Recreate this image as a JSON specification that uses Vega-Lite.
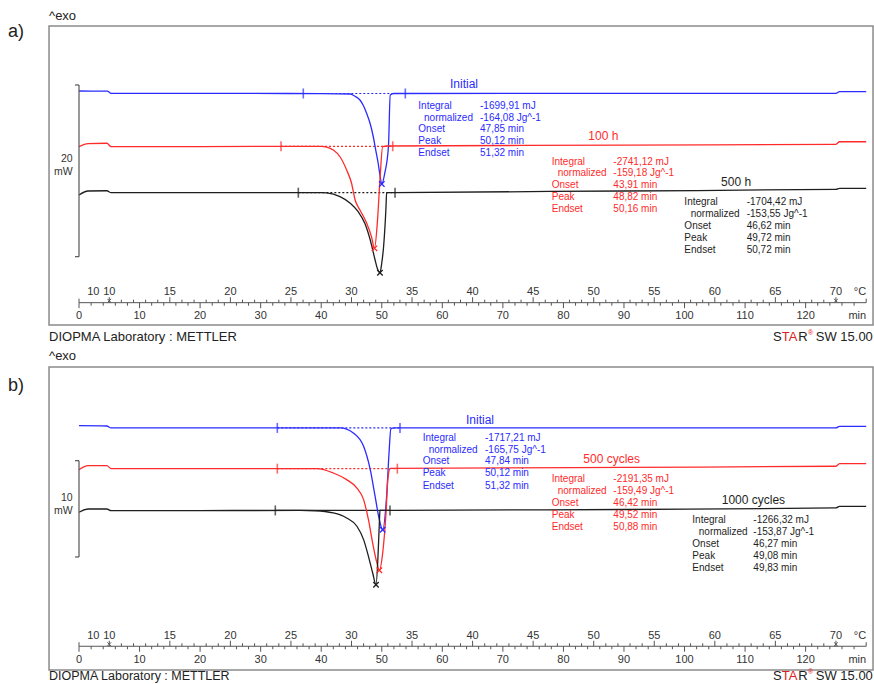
{
"$schema":"https://vega.github.io/schema/vega-lite/v6.json",
"padding":0,
"spacing":0,
"background":"#ffffff",
"config":{"view":{"stroke":null},"text":{"font":"Liberation Sans"}},
"datasets":{
"curves":[
{"panel":"a","series":"Initial","t":[0,4.7,5.3,20,40,44.8,45.5,46.4,47.0,47.5,48.1,48.6,49.0,49.4,49.7,50.0,50.5,51.1,51.4,52,90,125,125.6,130],"v":[29.24,29.22,28.97,28.97,28.93,28.89,28.66,28.19,27.49,26.64,25.39,23.91,22.37,20.85,19.45,18.40,19.69,22.75,28.77,28.95,28.96,28.97,29.16,29.16]},
{"panel":"a","series":"100 h","t":[0,1.5,4.6,5.3,20,40,40.9,42.0,43.1,44.2,45.0,45.6,46.4,47.5,48.3,48.8,49.3,49.7,50.15,51,90,125,125.6,130],"v":[22.75,23.12,23.15,22.75,22.77,22.79,22.71,22.36,21.58,20.04,18.52,16.54,15.38,13.86,12.27,10.91,14.21,18.87,22.75,22.83,22.93,23.03,23.33,23.33]},
{"panel":"a","series":"500 h","t":[0,1.5,4.6,5.3,20,40,40.9,43.1,44.8,46.1,47.2,48.1,48.9,49.3,49.7,50.0,50.3,50.7,50.8,52,90,125,125.6,130],"v":[17.12,17.59,17.62,17.39,17.39,17.39,17.36,16.93,16.16,15.18,13.83,11.88,9.55,8.5,8.07,9.2,11.10,15.76,17.39,17.40,17.59,17.79,17.90,17.90]},
{"panel":"b","series":"Initial","t":[0,4.6,5.3,30,43.1,44.3,45.3,47.0,48.1,48.9,49.6,50.15,50.8,51.2,51.5,52,90,125,125.6,130],"v":[27.13,27.10,26.90,26.90,26.90,26.75,26.38,24.99,22.56,19.80,17.37,16.33,19.80,24.30,26.79,26.90,26.90,26.90,27.07,27.07]},
{"panel":"b","series":"500 cycles","t":[0,1.5,4.6,5.3,20,39.3,42.0,44.2,45.9,47.0,47.8,48.6,49.2,49.6,50.15,50.7,51.0,51.4,90,125,125.6,130],"v":[22.56,22.98,22.98,22.67,22.67,22.67,22.22,21.53,20.66,19.45,17.37,14.61,12.88,12.12,13.91,18.07,21.53,22.69,22.80,22.92,23.19,23.19]},
{"panel":"b","series":"1000 cycles","t":[0,1.5,4.6,5.3,20,36.5,39,42.0,44.2,45.9,47.0,47.8,48.5,49.05,49.4,49.6,49.7,52,90,125,125.6,130],"v":[18.14,18.48,18.48,18.31,18.32,18.33,18.30,18.07,17.55,16.69,15.30,13.57,11.84,10.62,13.91,17.03,18.33,18.34,18.43,18.59,18.76,18.76]}
],
"limits":[
{"panel":"a","series":"Initial","start":37.04,"end":53.89,"v":28.95},
{"panel":"a","series":"100 h","start":33.36,"end":51.81,"v":22.80},
{"panel":"a","series":"500 h","start":36.22,"end":52.19,"v":17.39},
{"panel":"b","series":"Initial","start":32.75,"end":53.01,"v":26.90},
{"panel":"b","series":"500 cycles","start":32.75,"end":52.57,"v":22.67},
{"panel":"b","series":"1000 cycles","start":32.42,"end":51.36,"v":18.33}
],
"peaks":[
{"panel":"a","series":"Initial","t":50.0,"v":18.40},
{"panel":"a","series":"100 h","t":48.8,"v":10.91},
{"panel":"a","series":"500 h","t":49.7,"v":8.07},
{"panel":"b","series":"Initial","t":50.15,"v":16.33},
{"panel":"b","series":"500 cycles","t":49.6,"v":12.12},
{"panel":"b","series":"1000 cycles","t":49.05,"v":10.62}
],
"titles":[
{"panel":"a","series":"Initial","t":61.27,"v":30.02,"text":"Initial"},
{"panel":"a","series":"100 h","t":84.11,"v":24.0,"text":"100 h"},
{"panel":"a","series":"500 h","t":106.03,"v":18.64,"text":"500 h"},
{"panel":"b","series":"Initial","t":63.91,"v":27.76,"text":"Initial"},
{"panel":"b","series":"500 cycles","t":83.29,"v":23.71,"text":"500 cycles"},
{"panel":"b","series":"1000 cycles","t":106.14,"v":19.45,"text":"1000 cycles"}
],
"table":[
{"panel":"a","series":"Initial","t":[56.04,56.98,56.04,56.04,56.04,66.23,66.23,66.23,66.23,66.23],"v":[27.52,26.13,24.77,23.41,21.98,27.52,26.13,24.77,23.41,21.98],"text":["Integral","normalized","Onset","Peak","Endset","-1699,91 mJ","-164,08 Jg^-1","47,85 min","50,12 min","51,32 min"]},
{"panel":"a","series":"100 h","t":[78.07,79.06,78.07,78.07,78.07,88.24,88.24,88.24,88.24,88.24],"v":[21.0,19.65,18.29,16.89,15.49,21.0,19.65,18.29,16.89,15.49],"text":["Integral","normalized","Onset","Peak","Endset","-2741,12 mJ","-159,18 Jg^-1","43,91 min","48,82 min","50,16 min"]},
{"panel":"a","series":"500 h","t":[99.97,101.02,99.97,99.97,99.97,110.27,110.27,110.27,110.27,110.27],"v":[16.27,14.88,13.51,12.15,10.75,16.27,14.88,13.51,12.15,10.75],"text":["Integral","normalized","Onset","Peak","Endset","-1704,42 mJ","-153,55 Jg^-1","46,62 min","49,72 min","50,72 min"]},
{"panel":"b","series":"Initial","t":[56.76,57.75,56.76,56.76,56.76,67.05,67.05,67.05,67.05,67.05],"v":[25.86,24.61,23.44,22.19,20.90,25.86,24.61,23.44,22.19,20.90],"text":["Integral","normalized","Onset","Peak","Endset","-1717,21 mJ","-165,75 Jg^-1","47,84 min","50,12 min","51,32 min"]},
{"panel":"b","series":"500 cycles","t":[78.07,79.06,78.07,78.07,78.07,88.24,88.24,88.24,88.24,88.24],"v":[21.60,20.35,19.11,17.86,16.61,21.60,20.35,19.11,17.86,16.61],"text":["Integral","normalized","Onset","Peak","Endset","-2191,35 mJ","-159,49 Jg^-1","46,42 min","49,52 min","50,88 min"]},
{"panel":"b","series":"1000 cycles","t":[101.29,102.35,101.29,101.29,101.29,111.36,111.36,111.36,111.36,111.36],"v":[17.37,16.13,14.88,13.63,12.39,17.37,16.13,14.88,13.63,12.39],"text":["Integral","normalized","Onset","Peak","Endset","-1266,32 mJ","-153,87 Jg^-1","46,27 min","49,08 min","49,83 min"]}
],
"axisTicks":[{"t":[0,1,2,3,4,5,6,7,8,9,10,11,12,13,14,15,16,17,18,19,20,21,22,23,24,25,26,27,28,29,30,31,32,33,34,35,36,37,38,39,40,41,42,43,44,45,46,47,48,49,50,51,52,53,54,55,56,57,58,59,60,61,62,63,64,65,66,67,68,69,70,71,72,73,74,75,76,77,78,79,80,81,82,83,84,85,86,87,88,89,90,91,92,93,94,95,96,97,98,99,100,101,102,103,104,105,106,107,108,109,110,111,112,113,114,115,116,117,118,119,120,121,122,123,124,125,126,127,128,129,130]}],
"minLabels":[{"t":[0,10,20,30,40,50,60,70,80,90,100,110,120],"text":["0","10","20","30","40","50","60","70","80","90","100","110","120"]}],
"tempLabels":[{"t":[2.36,5,15,25,35,45,55,65,75,85,95,105,115,125],"text":["10","10","15","20","25","30","35","40","45","50","55","60","65","70"]}]
},
"vconcat":[
{"width":874,"height":342,"layer":[
{"data":{"values":[{}]},"mark":{"type":"rect","filled":false,"stroke":"#8a8a8a","strokeWidth":1.5},"encoding":{"x":{"datum":-4.95,"type":"quantitative","scale":{"domain":[-13.047,131.29],"nice":false,"zero":false},"axis":null},"x2":{"datum":131.13},"y":{"datum":36.81,"type":"quantitative","scale":{"domain":[0,39.84],"nice":false,"zero":false},"axis":null},"y2":{"datum":1.98}}},
{"data":{"name":"limits"},"transform":[{"filter":"datum.panel==='a'"}],"mark":{"type":"rule","strokeWidth":1.2},"encoding":{"x":{"field":"start","type":"quantitative","scale":{"domain":[-13.047,131.29],"nice":false,"zero":false},"axis":null},"x2":{"field":"end"},"y":{"field":"v","type":"quantitative","scale":{"domain":[0,39.84],"nice":false,"zero":false},"axis":null},"color":{"field":"series","type":"nominal","scale":{"domain":["Initial","100 h","500 h","500 cycles","1000 cycles"],"range":["#2b2bff","#ff2b2b","#1e1e1e","#ff2b2b","#1e1e1e"]},"legend":null},"strokeDash":{"condition":{"test":"datum.series==='1000 cycles'","value":[1,0]},"value":[2,2]}}},
{"data":{"name":"limits"},"transform":[{"filter":"datum.panel==='a'"},{"fold":["start","end"],"as":["which","pos"]}],"mark":{"type":"tick","orient":"vertical","size":10,"thickness":1.6},"encoding":{"x":{"field":"pos","type":"quantitative","scale":{"domain":[-13.047,131.29],"nice":false,"zero":false},"axis":null},"y":{"field":"v","type":"quantitative","scale":{"domain":[0,39.84],"nice":false,"zero":false},"axis":null},"color":{"field":"series","type":"nominal","legend":null}}},
{"data":{"name":"curves"},"transform":[{"filter":"datum.panel==='a'"},{"flatten":["t","v"]}],"mark":{"type":"line","interpolate":"monotone","strokeWidth":1.3},"encoding":{"x":{"field":"t","type":"quantitative","scale":{"domain":[-13.047,131.29],"nice":false,"zero":false},"axis":null},"y":{"field":"v","type":"quantitative","scale":{"domain":[0,39.84],"nice":false,"zero":false},"axis":null},"color":{"field":"series","type":"nominal","legend":null}}},
{"data":{"name":"peaks"},"transform":[{"filter":"datum.panel==='a'"}],"mark":{"type":"point","shape":"M-1,-1L1,1M-1,1L1,-1","filled":false,"size":30,"strokeWidth":1.3,"opacity":1},"encoding":{"x":{"field":"t","type":"quantitative","scale":{"domain":[-13.047,131.29],"nice":false,"zero":false},"axis":null},"y":{"field":"v","type":"quantitative","scale":{"domain":[0,39.84],"nice":false,"zero":false},"axis":null},"color":{"field":"series","type":"nominal","legend":null}}},
{"data":{"name":"titles"},"transform":[{"filter":"datum.panel==='a'"}],"mark":{"type":"text","align":"left","baseline":"middle","fontSize":12},"encoding":{"x":{"field":"t","type":"quantitative","scale":{"domain":[-13.047,131.29],"nice":false,"zero":false},"axis":null},"y":{"field":"v","type":"quantitative","scale":{"domain":[0,39.84],"nice":false,"zero":false},"axis":null},"color":{"field":"series","type":"nominal","legend":null},"text":{"field":"text"}}},
{"data":{"name":"table"},"transform":[{"filter":"datum.panel==='a'"},{"flatten":["t","v","text"]}],"mark":{"type":"text","align":"left","baseline":"middle","fontSize":10},"encoding":{"x":{"field":"t","type":"quantitative","scale":{"domain":[-13.047,131.29],"nice":false,"zero":false},"axis":null},"y":{"field":"v","type":"quantitative","scale":{"domain":[0,39.84],"nice":false,"zero":false},"axis":null},"color":{"field":"series","type":"nominal","legend":null},"text":{"field":"text"}}},
{"data":{"values":[{}]},"mark":{"type":"rule","color":"#555555","strokeWidth":1.2},"encoding":{"x":{"datum":0,"type":"quantitative"},"y":{"datum":29.94,"type":"quantitative"},"y2":{"datum":9.94}}},
{"data":{"values":[{}]},"mark":{"type":"rule","color":"#555555","strokeWidth":1.2},"encoding":{"x":{"datum":-0.66,"type":"quantitative"},"x2":{"datum":0},"y":{"datum":29.94,"type":"quantitative"}}},
{"data":{"values":[{}]},"mark":{"type":"rule","color":"#555555","strokeWidth":1.2},"encoding":{"x":{"datum":-0.66,"type":"quantitative"},"x2":{"datum":0},"y":{"datum":9.94,"type":"quantitative"}}},
{"data":{"values":[{"text":"20","v":21.32},{"text":"mW","v":19.80}]},"mark":{"type":"text","align":"right","baseline":"middle","fontSize":10.5,"color":"#333333"},"encoding":{"x":{"datum":-1.04,"type":"quantitative"},"y":{"field":"v","type":"quantitative"},"text":{"field":"text"}}},
{"data":{"values":[{}]},"mark":{"type":"rule","color":"#555555","strokeWidth":1},"encoding":{"x":{"datum":0,"type":"quantitative"},"x2":{"datum":130},"y":{"datum":4.58,"type":"quantitative"}}},
{"data":{"name":"axisTicks"},"transform":[{"flatten":["t"]},{"filter":"datum.t % 10 === 0 && datum.t <= 120"}],"mark":{"type":"rule","color":"#555555","strokeWidth":1},"encoding":{"x":{"field":"t","type":"quantitative"},"y":{"datum":4.58,"type":"quantitative"},"y2":{"datum":3.94}}},
{"data":{"name":"axisTicks"},"transform":[{"flatten":["t"]},{"filter":"datum.t % 2 === 0 && datum.t % 10 !== 0 && datum.t < 130"}],"mark":{"type":"rule","color":"#555555","strokeWidth":1},"encoding":{"x":{"field":"t","type":"quantitative"},"y":{"datum":4.58,"type":"quantitative"},"y2":{"datum":4.23}}},
{"data":{"name":"axisTicks"},"transform":[{"flatten":["t"]},{"filter":"datum.t % 10 === 5"}],"mark":{"type":"rule","color":"#555555","strokeWidth":1},"encoding":{"x":{"field":"t","type":"quantitative"},"y":{"datum":4.58,"type":"quantitative"},"y2":{"datum":5.22}}},
{"data":{"name":"axisTicks"},"transform":[{"flatten":["t"]},{"filter":"datum.t % 2 === 1 && datum.t > 5 && datum.t < 125 && datum.t % 10 !== 5"}],"mark":{"type":"rule","color":"#555555","strokeWidth":1},"encoding":{"x":{"field":"t","type":"quantitative"},"y":{"datum":4.58,"type":"quantitative"},"y2":{"datum":4.93}}},
{"data":{"values":[{"t":0},{"t":130}]},"mark":{"type":"rule","color":"#555555","strokeWidth":1},"encoding":{"x":{"field":"t","type":"quantitative"},"y":{"datum":4.58,"type":"quantitative"},"y2":{"datum":5.05}}},
{"data":{"values":[{"t":5},{"t":125}]},"mark":{"type":"point","shape":"M-1,-1L1,1M-1,1L1,-1","filled":false,"size":14,"strokeWidth":1,"color":"#555555","opacity":1},"encoding":{"x":{"field":"t","type":"quantitative"},"y":{"datum":4.81,"type":"quantitative"}}},
{"data":{"name":"minLabels"},"transform":[{"flatten":["t","text"]}],"mark":{"type":"text","align":"center","baseline":"middle","fontSize":11,"color":"#333333"},"encoding":{"x":{"field":"t","type":"quantitative"},"y":{"datum":3.06,"type":"quantitative"},"text":{"field":"text"}}},
{"data":{"name":"tempLabels"},"transform":[{"flatten":["t","text"]}],"mark":{"type":"text","align":"center","baseline":"middle","fontSize":11,"color":"#333333"},"encoding":{"x":{"field":"t","type":"quantitative"},"y":{"datum":5.86,"type":"quantitative"},"text":{"field":"text"}}},
{"data":{"values":[{"text":"°C","v":5.86},{"text":"min","v":3.06}]},"mark":{"type":"text","align":"right","baseline":"middle","fontSize":11,"color":"#333333"},"encoding":{"x":{"datum":130,"type":"quantitative"},"y":{"field":"v","type":"quantitative"},"text":{"field":"text"}}},
{"data":{"values":[{}]},"mark":{"type":"text","text":"^exo","align":"left","baseline":"middle","fontSize":13,"color":"#222222"},"encoding":{"x":{"datum":-4.95,"type":"quantitative"},"y":{"datum":37.97,"type":"quantitative"}}},
{"data":{"values":[{}]},"mark":{"type":"text","text":"a)","align":"left","baseline":"middle","fontSize":18,"color":"#222222"},"encoding":{"x":{"datum":-11.73,"type":"quantitative"},"y":{"datum":36.14,"type":"quantitative"}}},
{"data":{"values":[{}]},"mark":{"type":"text","text":"DIOPMA Laboratory : METTLER","align":"left","baseline":"middle","fontSize":13,"color":"#222222"},"encoding":{"x":{"datum":-4.95,"type":"quantitative"},"y":{"datum":0.55,"type":"quantitative"}}},
{"data":{"values":[{}]},"mark":{"type":"text","text":"S","align":"left","baseline":"middle","fontSize":13,"color":"#222222"},"encoding":{"x":{"datum":114.6,"type":"quantitative"},"y":{"datum":0.55,"type":"quantitative"}}},
{"data":{"values":[{}]},"mark":{"type":"text","text":"TA","align":"left","baseline":"middle","fontSize":13,"color":"#e02020"},"encoding":{"x":{"datum":116.05,"type":"quantitative"},"y":{"datum":0.55,"type":"quantitative"}}},
{"data":{"values":[{}]},"mark":{"type":"text","text":"R","align":"left","baseline":"middle","fontSize":13,"color":"#222222"},"encoding":{"x":{"datum":118.8,"type":"quantitative"},"y":{"datum":0.55,"type":"quantitative"}}},
{"data":{"values":[{}]},"mark":{"type":"text","text":"®","align":"left","baseline":"middle","fontSize":7,"color":"#e02020"},"encoding":{"x":{"datum":120.4,"type":"quantitative"},"y":{"datum":1.02,"type":"quantitative"}}},
{"data":{"values":[{}]},"mark":{"type":"text","text":"SW 15.00","align":"right","baseline":"middle","fontSize":13,"color":"#222222"},"encoding":{"x":{"datum":131.1,"type":"quantitative"},"y":{"datum":0.55,"type":"quantitative"}}}
]},
{"width":874,"height":342,"layer":[
{"data":{"values":[{}]},"mark":{"type":"rect","filled":false,"stroke":"#8a8a8a","strokeWidth":1.5},"encoding":{"x":{"datum":-4.95,"type":"quantitative","scale":{"domain":[-13.047,131.29],"nice":false,"zero":false},"axis":null},"x2":{"datum":131.13},"y":{"datum":33.23,"type":"quantitative","scale":{"domain":[0,35.51],"nice":false,"zero":false},"axis":null},"y2":{"datum":1.765}}},
{"data":{"name":"limits"},"transform":[{"filter":"datum.panel==='b'"}],"mark":{"type":"rule","strokeWidth":1.2},"encoding":{"x":{"field":"start","type":"quantitative","scale":{"domain":[-13.047,131.29],"nice":false,"zero":false},"axis":null},"x2":{"field":"end"},"y":{"field":"v","type":"quantitative","scale":{"domain":[0,35.51],"nice":false,"zero":false},"axis":null},"color":{"field":"series","type":"nominal","scale":{"domain":["Initial","100 h","500 h","500 cycles","1000 cycles"],"range":["#2b2bff","#ff2b2b","#1e1e1e","#ff2b2b","#1e1e1e"]},"legend":null},"strokeDash":{"condition":{"test":"datum.series==='1000 cycles'","value":[1,0]},"value":[2,2]}}},
{"data":{"name":"limits"},"transform":[{"filter":"datum.panel==='b'"},{"fold":["start","end"],"as":["which","pos"]}],"mark":{"type":"tick","orient":"vertical","size":10,"thickness":1.6},"encoding":{"x":{"field":"pos","type":"quantitative","scale":{"domain":[-13.047,131.29],"nice":false,"zero":false},"axis":null},"y":{"field":"v","type":"quantitative","scale":{"domain":[0,35.51],"nice":false,"zero":false},"axis":null},"color":{"field":"series","type":"nominal","legend":null}}},
{"data":{"name":"curves"},"transform":[{"filter":"datum.panel==='b'"},{"flatten":["t","v"]}],"mark":{"type":"line","interpolate":"monotone","strokeWidth":1.3},"encoding":{"x":{"field":"t","type":"quantitative","scale":{"domain":[-13.047,131.29],"nice":false,"zero":false},"axis":null},"y":{"field":"v","type":"quantitative","scale":{"domain":[0,35.51],"nice":false,"zero":false},"axis":null},"color":{"field":"series","type":"nominal","legend":null}}},
{"data":{"name":"peaks"},"transform":[{"filter":"datum.panel==='b'"}],"mark":{"type":"point","shape":"M-1,-1L1,1M-1,1L1,-1","filled":false,"size":30,"strokeWidth":1.3,"opacity":1},"encoding":{"x":{"field":"t","type":"quantitative","scale":{"domain":[-13.047,131.29],"nice":false,"zero":false},"axis":null},"y":{"field":"v","type":"quantitative","scale":{"domain":[0,35.51],"nice":false,"zero":false},"axis":null},"color":{"field":"series","type":"nominal","legend":null}}},
{"data":{"name":"titles"},"transform":[{"filter":"datum.panel==='b'"}],"mark":{"type":"text","align":"left","baseline":"middle","fontSize":12},"encoding":{"x":{"field":"t","type":"quantitative","scale":{"domain":[-13.047,131.29],"nice":false,"zero":false},"axis":null},"y":{"field":"v","type":"quantitative","scale":{"domain":[0,35.51],"nice":false,"zero":false},"axis":null},"color":{"field":"series","type":"nominal","legend":null},"text":{"field":"text"}}},
{"data":{"name":"table"},"transform":[{"filter":"datum.panel==='b'"},{"flatten":["t","v","text"]}],"mark":{"type":"text","align":"left","baseline":"middle","fontSize":10},"encoding":{"x":{"field":"t","type":"quantitative","scale":{"domain":[-13.047,131.29],"nice":false,"zero":false},"axis":null},"y":{"field":"v","type":"quantitative","scale":{"domain":[0,35.51],"nice":false,"zero":false},"axis":null},"color":{"field":"series","type":"nominal","legend":null},"text":{"field":"text"}}},
{"data":{"values":[{}]},"mark":{"type":"rule","color":"#555555","strokeWidth":1.2},"encoding":{"x":{"datum":0,"type":"quantitative"},"y":{"datum":23.50,"type":"quantitative"},"y2":{"datum":13.50}}},
{"data":{"values":[{}]},"mark":{"type":"rule","color":"#555555","strokeWidth":1.2},"encoding":{"x":{"datum":-0.66,"type":"quantitative"},"x2":{"datum":0},"y":{"datum":23.50,"type":"quantitative"}}},
{"data":{"values":[{}]},"mark":{"type":"rule","color":"#555555","strokeWidth":1.2},"encoding":{"x":{"datum":-0.66,"type":"quantitative"},"x2":{"datum":0},"y":{"datum":13.50,"type":"quantitative"}}},
{"data":{"values":[{"text":"10","v":19.63},{"text":"mW","v":18.31}]},"mark":{"type":"text","align":"right","baseline":"middle","fontSize":10.5,"color":"#333333"},"encoding":{"x":{"datum":-1.04,"type":"quantitative"},"y":{"field":"v","type":"quantitative"},"text":{"field":"text"}}},
{"data":{"values":[{}]},"mark":{"type":"rule","color":"#555555","strokeWidth":1},"encoding":{"x":{"datum":0,"type":"quantitative"},"x2":{"datum":130},"y":{"datum":4.23,"type":"quantitative"}}},
{"data":{"name":"axisTicks"},"transform":[{"flatten":["t"]},{"filter":"datum.t % 10 === 0 && datum.t <= 120"}],"mark":{"type":"rule","color":"#555555","strokeWidth":1},"encoding":{"x":{"field":"t","type":"quantitative"},"y":{"datum":4.23,"type":"quantitative"},"y2":{"datum":3.66}}},
{"data":{"name":"axisTicks"},"transform":[{"flatten":["t"]},{"filter":"datum.t % 2 === 0 && datum.t % 10 !== 0 && datum.t < 130"}],"mark":{"type":"rule","color":"#555555","strokeWidth":1},"encoding":{"x":{"field":"t","type":"quantitative"},"y":{"datum":4.23,"type":"quantitative"},"y2":{"datum":3.92}}},
{"data":{"name":"axisTicks"},"transform":[{"flatten":["t"]},{"filter":"datum.t % 10 === 5"}],"mark":{"type":"rule","color":"#555555","strokeWidth":1},"encoding":{"x":{"field":"t","type":"quantitative"},"y":{"datum":4.23,"type":"quantitative"},"y2":{"datum":4.80}}},
{"data":{"name":"axisTicks"},"transform":[{"flatten":["t"]},{"filter":"datum.t % 2 === 1 && datum.t > 5 && datum.t < 125 && datum.t % 10 !== 5"}],"mark":{"type":"rule","color":"#555555","strokeWidth":1},"encoding":{"x":{"field":"t","type":"quantitative"},"y":{"datum":4.23,"type":"quantitative"},"y2":{"datum":4.54}}},
{"data":{"values":[{"t":0},{"t":130}]},"mark":{"type":"rule","color":"#555555","strokeWidth":1},"encoding":{"x":{"field":"t","type":"quantitative"},"y":{"datum":4.23,"type":"quantitative"},"y2":{"datum":4.65}}},
{"data":{"values":[{"t":5},{"t":125}]},"mark":{"type":"point","shape":"M-1,-1L1,1M-1,1L1,-1","filled":false,"size":14,"strokeWidth":1,"color":"#555555","opacity":1},"encoding":{"x":{"field":"t","type":"quantitative"},"y":{"datum":4.44,"type":"quantitative"}}},
{"data":{"name":"minLabels"},"transform":[{"flatten":["t","text"]}],"mark":{"type":"text","align":"center","baseline":"middle","fontSize":11,"color":"#333333"},"encoding":{"x":{"field":"t","type":"quantitative"},"y":{"datum":2.83,"type":"quantitative"},"text":{"field":"text"}}},
{"data":{"name":"tempLabels"},"transform":[{"flatten":["t","text"]}],"mark":{"type":"text","align":"center","baseline":"middle","fontSize":11,"color":"#333333"},"encoding":{"x":{"field":"t","type":"quantitative"},"y":{"datum":5.33,"type":"quantitative"},"text":{"field":"text"}}},
{"data":{"values":[{"text":"°C","v":5.33},{"text":"min","v":2.83}]},"mark":{"type":"text","align":"right","baseline":"middle","fontSize":11,"color":"#333333"},"encoding":{"x":{"datum":130,"type":"quantitative"},"y":{"field":"v","type":"quantitative"},"text":{"field":"text"}}},
{"data":{"values":[{}]},"mark":{"type":"text","text":"^exo","align":"left","baseline":"middle","fontSize":13,"color":"#222222"},"encoding":{"x":{"datum":-4.95,"type":"quantitative"},"y":{"datum":34.34,"type":"quantitative"}}},
{"data":{"values":[{}]},"mark":{"type":"text","text":"b)","align":"left","baseline":"middle","fontSize":18,"color":"#222222"},"encoding":{"x":{"datum":-11.73,"type":"quantitative"},"y":{"datum":31.23,"type":"quantitative"}}},
{"data":{"values":[{}]},"mark":{"type":"text","text":"DIOPMA Laboratory : METTLER","align":"left","baseline":"middle","fontSize":12.5,"color":"#222222"},"encoding":{"x":{"datum":-4.95,"type":"quantitative"},"y":{"datum":1.12,"type":"quantitative"}}},
{"data":{"values":[{}]},"mark":{"type":"text","text":"S","align":"left","baseline":"middle","fontSize":13,"color":"#222222"},"encoding":{"x":{"datum":114.6,"type":"quantitative"},"y":{"datum":1.12,"type":"quantitative"}}},
{"data":{"values":[{}]},"mark":{"type":"text","text":"TA","align":"left","baseline":"middle","fontSize":13,"color":"#e02020"},"encoding":{"x":{"datum":116.05,"type":"quantitative"},"y":{"datum":1.12,"type":"quantitative"}}},
{"data":{"values":[{}]},"mark":{"type":"text","text":"R","align":"left","baseline":"middle","fontSize":13,"color":"#222222"},"encoding":{"x":{"datum":118.8,"type":"quantitative"},"y":{"datum":1.12,"type":"quantitative"}}},
{"data":{"values":[{}]},"mark":{"type":"text","text":"®","align":"left","baseline":"middle","fontSize":7,"color":"#e02020"},"encoding":{"x":{"datum":120.4,"type":"quantitative"},"y":{"datum":1.54,"type":"quantitative"}}},
{"data":{"values":[{}]},"mark":{"type":"text","text":"SW 15.00","align":"right","baseline":"middle","fontSize":13,"color":"#222222"},"encoding":{"x":{"datum":131.1,"type":"quantitative"},"y":{"datum":1.12,"type":"quantitative"}}}
]}
]
}
